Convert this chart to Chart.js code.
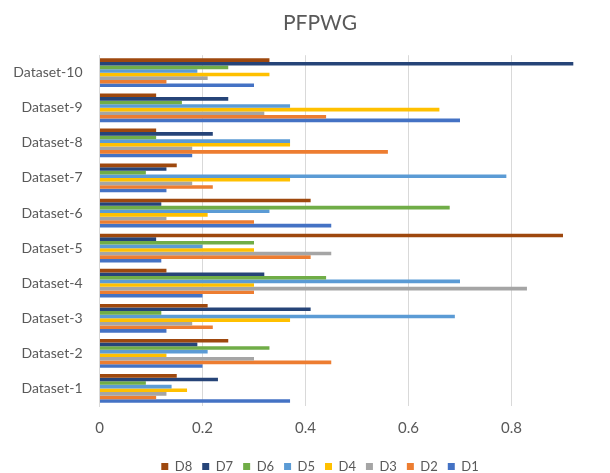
<!DOCTYPE html>
<html>
<head>
<meta charset="utf-8">
<script src="https://cdn.jsdelivr.net/npm/chart.js@4.4.1/dist/chart.umd.min.js"></script>
<style>
  html, body { margin: 0; padding: 0; background: #fff; overflow: hidden; }
  #wrap { width: 610px; height: 473px; overflow: hidden; }
</style>
</head>
<body>
<div id="wrap"><canvas id="chart" width="650" height="473"></canvas></div>
<script>
// categories, bottom to top as they appear on the chart
const categories = ["Dataset-1", "Dataset-2", "Dataset-3", "Dataset-4", "Dataset-5",
                    "Dataset-6", "Dataset-7", "Dataset-8", "Dataset-9", "Dataset-10"];
const d1 = [0.37, 0.20, 0.13, 0.20, 0.12, 0.45, 0.13, 0.18, 0.70, 0.30];
const d2 = [0.11, 0.45, 0.22, 0.30, 0.41, 0.30, 0.22, 0.56, 0.44, 0.13];
const d3 = [0.13, 0.30, 0.18, 0.83, 0.45, 0.13, 0.18, 0.18, 0.32, 0.21];
const d4 = [0.17, 0.13, 0.37, 0.30, 0.30, 0.21, 0.37, 0.37, 0.66, 0.33];
const d5 = [0.14, 0.21, 0.69, 0.70, 0.20, 0.33, 0.79, 0.37, 0.37, 0.19];
const d6 = [0.09, 0.33, 0.12, 0.44, 0.30, 0.68, 0.09, 0.11, 0.16, 0.25];
const d7 = [0.23, 0.19, 0.41, 0.32, 0.11, 0.12, 0.13, 0.22, 0.25, 0.92];
const d8 = [0.15, 0.25, 0.21, 0.13, 0.90, 0.41, 0.15, 0.11, 0.11, 0.33];
const xTicks = [0, 0.2, 0.4, 0.6, 0.8, 1];

const textColor = "#595959";
const font = "Lato, 'Open Sans', sans-serif";

// legend / top-of-group order: D8 first
const series = [
  { label: "D8", data: d8, color: "#9E480E" },
  { label: "D7", data: d7, color: "#264478" },
  { label: "D6", data: d6, color: "#70AD47" },
  { label: "D5", data: d5, color: "#5B9BD5" },
  { label: "D4", data: d4, color: "#FFC000" },
  { label: "D3", data: d3, color: "#A5A5A5" },
  { label: "D2", data: d2, color: "#ED7D31" },
  { label: "D1", data: d1, color: "#4472C4" }
];

const ctx = document.getElementById("chart").getContext("2d");
new Chart(ctx, {
  type: "bar",
  data: {
    labels: categories.slice().reverse(),
    datasets: series.map((s) => ({
      label: s.label,
      data: s.data.slice().reverse(),
      backgroundColor: s.color,
      borderWidth: 0,
      categoryPercentage: 0.82,
      barPercentage: 1.0
    }))
  },
  options: {
    indexAxis: "y",
    responsive: false,
    animation: false,
    layout: { padding: { left: 0, right: 10, top: 0, bottom: -10 } },
    plugins: {
      title: {
        display: true,
        text: "PFPWG",
        color: textColor,
        font: { family: font, size: 21, weight: "normal" },
        padding: { top: 11, bottom: 19 }
      },
      legend: {
        position: "bottom",
        labels: {
          color: textColor,
          font: { family: font, size: 13 },
          boxWidth: 7,
          boxHeight: 7,
          padding: 10
        }
      },
      tooltip: { enabled: false }
    },
    scales: {
      x: {
        min: 0,
        max: 1,
        afterBuildTicks: (scale) => {
          scale.ticks = xTicks.map((v) => ({ value: v }));
        },
        ticks: {
          color: textColor,
          font: { family: font, size: 15 },
          padding: 13,
          callback: (v) => String(v)
        },
        grid: { color: "#D9D9D9", drawTicks: false },
        border: { display: false },
        afterFit: (scale) => { scale.height = 44; }
      },
      y: {
        ticks: {
          color: textColor,
          font: { family: font, size: 14 },
          padding: 17
        },
        grid: { display: false, drawTicks: false },
        border: { display: true, color: "#D9D9D9" },
        afterFit: (scale) => { scale.width = 99.5; }
      },
      // empty spacer on the right so the plot ends at 1.0 off the page edge
      spacer: {
        type: "linear",
        position: "right",
        grid: { display: false, drawTicks: false },
        ticks: { display: false },
        border: { display: false },
        afterFit: (scale) => { scale.width = 25.5; }
      }
    }
  }
});
</script>
</body>
</html>
